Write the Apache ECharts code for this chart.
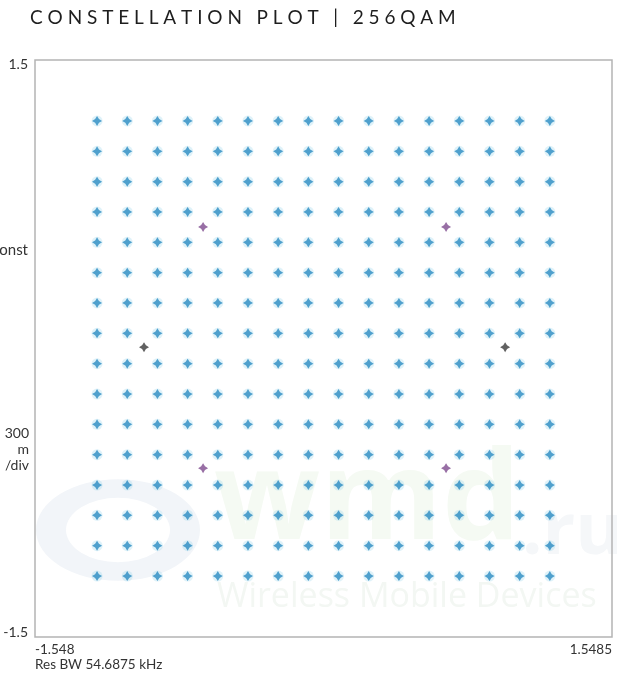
<!DOCTYPE html>
<html>
<head>
<meta charset="utf-8">
<script src="https://cdn.jsdelivr.net/npm/echarts@6/dist/echarts.min.js"></script>
<style>
html,body{margin:0;padding:0;background:#fff;}
#chart{width:629px;height:682px;}
</style>
</head>
<body>
<div id="chart"></div>
<script>
// I (in-phase) levels of the 256QAM grid
const iLevels = [-1.215,-1.053,-0.891,-0.729,-0.567,-0.405,-0.243,-0.081,0.081,0.243,0.405,0.567,0.729,0.891,1.053,1.215];
// Q (quadrature) levels
const qLevels = [-1.183,-1.025,-0.867,-0.710,-0.552,-0.394,-0.237,-0.079,0.079,0.237,0.394,0.552,0.710,0.867,1.025,1.183];
// Purple marker points (I, Q)
const purplePoints = [[-0.646,0.632],[0.658,0.632],[-0.646,-0.622],[0.658,-0.622]];
// Dark marker points (I, Q)
const darkPoints = [[-0.963,0.007],[0.975,0.007]];
// Axis range & labels
const xRange = [-1.548, 1.5485];
const yRange = [-1.5, 1.5];
const xTickLabels = ['-1.548', '1.5485'];
const yTickLabels = ['1.5', '-1.5'];
const titleText = 'CONSTELLATION PLOT | 256QAM';
const yUnitLabel = 'Const';
const scaleLabel = '300\nm\n/div';
const resBwLabel = 'Res BW 54.6875 kHz';

const constellation = [];
for (const q of qLevels) for (const i of iLevels) constellation.push([i, q]);

function spaced(s){
  return s.split(' ').map(w => w.split('').join(' ')).join('   ');
}

const blobPath = 'path://M0,-5 L1.9,-1.9 L5,0 L1.9,1.9 L0,5 L-1.9,1.9 L-5,0 L-1.9,-1.9 Z';

const chart = echarts.init(document.getElementById('chart'));
const labelFont = 'Lato, "DejaVu Sans", sans-serif';
chart.setOption({
  animation: false,
  backgroundColor: '#fff',
  grid: {left: 35, right: 17, top: 60, bottom: 45, show: true, borderColor: '#b4b4b4', borderWidth: 1.5, backgroundColor: 'transparent'},
  xAxis: {type: 'value', min: xRange[0], max: xRange[1], axisLine: {show: false}, axisTick: {show: false}, axisLabel: {show: false}, splitLine: {show: false}},
  yAxis: {type: 'value', min: yRange[0], max: yRange[1], axisLine: {show: false}, axisTick: {show: false}, axisLabel: {show: false}, splitLine: {show: false}},
  graphic: [
    {type: 'text', left: 30, top: 8, style: {text: spaced(titleText), font: '400 19px Lato, sans-serif', fill: '#1e1e1e'}},
    // faint watermark
    {type: 'ring', z: -11, silent: true, shape: {cx: 118, cy: 0, r: 82, r0: 52}, scaleY: 0.62, x: 0, y: 530, style: {fill: '#f2f5f9'}},
    {type: 'text', z: -10, left: 214, top: 442, silent: true, style: {text: 'wmd', font: 'bold 124px "Open Sans", sans-serif', fill: '#f5faf3'}},
    {type: 'text', z: -10, left: 522, top: 497, silent: true, style: {text: '.ru', font: 'bold 72px "Open Sans", sans-serif', fill: '#f5f7f9'}},
    {type: 'text', z: -10, left: 217, top: 580, silent: true, style: {text: 'Wireless Mobile Devices', font: '400 34px "Open Sans", sans-serif', fill: '#f3f7f3'}},
    {type: 'text', x: 28, y: 243, style: {text: yUnitLabel, font: '15px ' + labelFont, fill: '#333', align: 'right'}},
    {type: 'text', x: 29, y: 425, style: {text: scaleLabel, font: '14px ' + labelFont, fill: '#333', align: 'right', lineHeight: 16}},
    {type: 'text', x: 28, y: 57, style: {text: yTickLabels[0], font: '14px ' + labelFont, fill: '#333', align: 'right'}},
    {type: 'text', x: 28, y: 625, style: {text: yTickLabels[1], font: '14px ' + labelFont, fill: '#333', align: 'right'}},
    {type: 'text', left: 35, top: 643, style: {text: xTickLabels[0], font: '13.5px ' + labelFont, fill: '#333'}},
    {type: 'text', right: 17, top: 643, style: {text: xTickLabels[1], font: '13.5px ' + labelFont, fill: '#333'}},
    {type: 'text', left: 35, top: 658, style: {text: resBwLabel, font: '13.5px ' + labelFont, fill: '#333'}}
  ],
  series: [
    {type: 'scatter', data: constellation, symbol: 'circle', symbolSize: 11, itemStyle: {color: 'rgba(140,210,235,0.35)'}, z: 2},
    {type: 'scatter', data: constellation, symbol: blobPath, symbolSize: 10, itemStyle: {color: '#2a8bc2'}, z: 3},
    {type: 'scatter', data: purplePoints, symbol: blobPath, symbolSize: 10, itemStyle: {color: '#7e4b8f'}, z: 3},
    {type: 'scatter', data: darkPoints, symbol: blobPath, symbolSize: 10, itemStyle: {color: '#3a3a3a'}, z: 3}
  ]
});
</script>
</body>
</html>
